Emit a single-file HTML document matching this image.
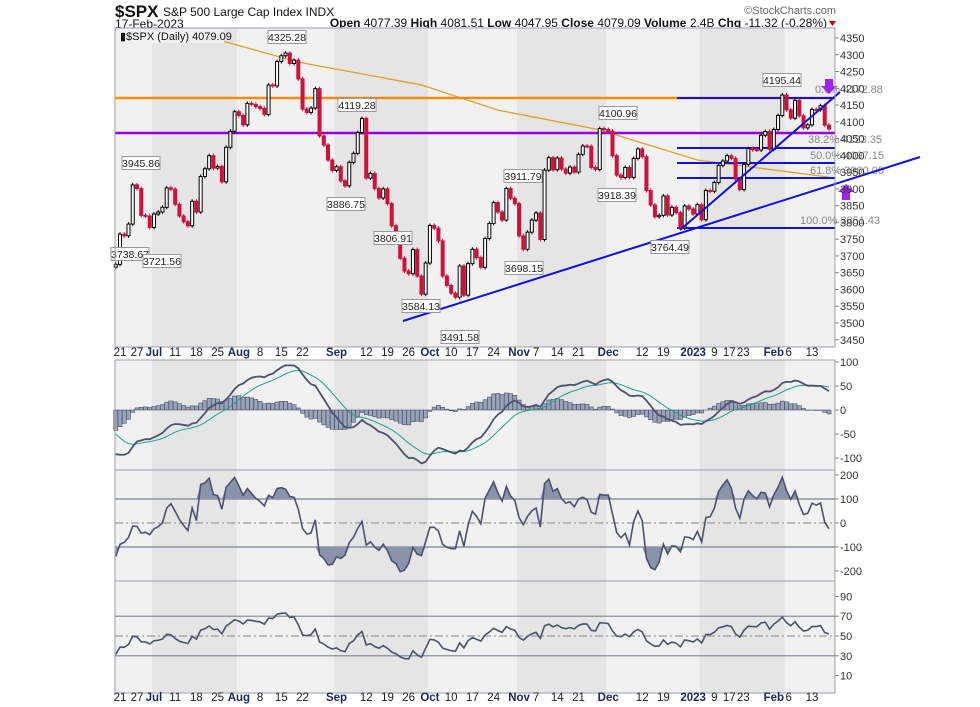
<!DOCTYPE html>
<html><head><meta charset="utf-8"><style>
html,body{margin:0;padding:0;background:#fff;}
svg{display:block;font-family:"Liberation Sans",sans-serif;}
</style></head><body>
<svg id="c" width="980" height="707" viewBox="0 0 980 707" xmlns="http://www.w3.org/2000/svg">
<g id="hdr">
<text x="115" y="17" font-size="17" font-weight="bold" fill="#111">$SPX</text>
<text x="163" y="16" font-size="12" fill="#111">S&amp;P 500 Large Cap Index INDX</text>
<text x="115" y="28" font-size="12" fill="#111">17-Feb-2023</text>
<text x="836" y="14" font-size="11" fill="#666" text-anchor="end">©StockCharts.com</text>
<text x="827" y="27" font-size="12" fill="#111" text-anchor="end"><tspan font-weight="bold">Open</tspan> 4077.39 <tspan font-weight="bold">High</tspan> 4081.51 <tspan font-weight="bold">Low</tspan> 4047.95 <tspan font-weight="bold">Close</tspan> 4079.09 <tspan font-weight="bold">Volume</tspan> 2.4B <tspan font-weight="bold">Chg</tspan> -11.32 (-0.28%)</text>
<path d="M829 21 L836 21 L832.5 26 Z" fill="#c00"/>
</g>
<g id="bands"></g>
<g id="main"></g>
<g id="macd"></g>
<g id="cci"></g>
<g id="rsi"></g>
<g id="axes"></g>
</svg>
<script>
// ---- data ----
const preCloses=[3923.68,3900.79,3901.36,3973.75,3941.48,3978.73,4057.84,4158.24,4132.15,4101.23,4176.82,4108.54,4121.43,4160.68,4115.77,4017.82,3900.86,3749.63,3735.48,3789.99,3666.77];
const closes=[3675,3765,3760,3795,3912,3901,3821,3819,3785,3825,3831,3845,3903,3899,3854,3819,3802,3790,3863,3831,3937,3960,3999,3962,3967,3921,4024,4072,4130,4119,4091,4155,4152,4145,4140,4122,4210,4207,4280,4297,4305,4274,4284,4228,4138,4128,4141,4199,4058,4031,3986,3955,3966,3924,3909,3979,4006,4068,4110,3932,3946,3901,3873,3900,3856,3790,3758,3693,3655,3647,3719,3640,3586,3679,3791,3783,3745,3640,3612,3589,3577,3670,3583,3677,3720,3695,3666,3752,3797,3859,3831,3807,3901,3872,3856,3760,3720,3771,3807,3828,3749,3956,3993,3957,3992,3959,3947,3965,3950,4003,4028,4027,3964,3958,4080,4077,4072,3999,3941,3934,3964,3934,3991,4019,3996,3895,3852,3817,3821,3879,3822,3845,3829,3783,3849,3840,3825,3853,3808,3895,3893,3919,3970,3983,3999,3991,3929,3898,3973,4020,4017,4016,4060,4071,4018,4077,4119,4180,4136,4111,4164,4118,4082,4091,4137,4136,4148,4090,4079];
const maIdx=[0,26,43,72,90,114,137,168];
const maVals=[4375,4338,4278,4210,4135,4076,3986,3935];
const priceTicks=[4350,4300,4250,4200,4150,4100,4050,4000,3950,3900,3850,3800,3750,3700,3650,3600,3550,3500,3450];
const dateTickIdx=[1,5,9,14,19,24,29,34,39,44,52,59,64,69,74,79,84,89,95,99,104,109,116,124,129,136,141,144.5,147.8,155,158.5,164];
const dateTickLbl=["21","27","Jul","11","18","25","Aug","8","15","22","Sep","12","19","26","Oct","10","17","24","Nov","7","14","21","Dec","12","19","2023","9","17","23","Feb","6","13"];
const bandStartIdx=[9,52,95,138];
const bandEndIdx=[29,74,116,158];
const macdTicks=[100,50,0,-50,-100];
const cciTicks=[200,100,0,-100,-200];
const rsiTicks=[90,70,50,30,10];
const fibVals=[4172.88,4123.35,4097.15,4070,3851.43];

// ---- scales ----
const NS="http://www.w3.org/2000/svg";
const X0=115,X1=835;
const step=(829-115.75)/(closes.length-1);
const xs=i=>115.75+i*step;
const yP=v=>38+(4350-v)*0.3353;
const yM=v=>410-v*0.48;
const yC=v=>523-v*0.24;
const yR=v=>636-(v-50)*0.99;
function el(parent,tag,attrs,text){const e=document.createElementNS(NS,tag);for(const k in attrs)e.setAttribute(k,attrs[k]);if(text!==undefined)e.textContent=text;document.getElementById(parent).appendChild(e);return e;}

// ---- panels bg ----
const panels=[[28,347],[360,470],[470,581],[581,693]];
panels.forEach((p,pi)=>{
  const r=el('bands','rect',{x:X0,y:p[0],width:X1-X0,height:p[1]-p[0],fill:'#f1f1f1'});
  
  
  bandStartIdx.forEach((s,k)=>{
    const b=el('bands','rect',{x:xs(s)-2,y:p[0],width:xs(bandEndIdx[k])-xs(s),height:p[1]-p[0],fill:'#e5e5e5'});
    
    
  });
});

// ---- main price ----
let pts=maIdx.map((i,k)=>xs(i)+','+yP(maVals[k])).join(' ');
let ma=el('main','polyline',{points:pts,fill:'none',stroke:'#e0a030','stroke-width':1.3});


let hl=el('main','line',{x1:X0,x2:X1,y1:98,y2:98,stroke:'#ff8c00','stroke-width':2.5});


let pl=el('main','line',{x1:X0,x2:X1,y1:133,y2:133,stroke:'#9400d3','stroke-width':2.5});


fibVals.forEach((v,k)=>{
  const fy=[98,148,163,178,228][k];
  const l=el('main','line',{x1:677,x2:835,y1:fy,y2:fy,stroke:'#1010e0','stroke-width':2});
  
  
});
const fibT=[["0.0% 4172.88",815,93],["38.2% 4123.35",808,143],["50.0% 4097.15",810,159],["61.8% 3960.00",810,174],["100.0% 3851.43",800,224]];
fibT.forEach(f=>{const t=el('main','text',{x:f[1],y:f[2],'font-size':11,fill:'#888'},f[0]);
  
  });
closes.forEach((c,i)=>{
  const o=i===0?preCloses[preCloses.length-1]:closes[i-1];
  const up=c>=o;const x=xs(i);
  const hi=Math.max(o,c)+6,lo=Math.min(o,c)-6;
  const w=el('main','line',{x1:x,x2:x,y1:yP(hi),y2:yP(lo),stroke:up?'#000':'#d0103a','stroke-width':1});
  
  
  const top=yP(Math.max(o,c)),h=Math.max(1,yP(Math.min(o,c))-top);
  const b=el('main','rect',{x:x-1.5,y:top,width:3,height:h,fill:up?'#fff':'#d0103a',stroke:up?'#000':'#d0103a','stroke-width':1});
  
  
});
let t1=el('main','line',{x1:403,y1:321,x2:920,y2:157,stroke:'#1010e0','stroke-width':2});


let t2=el('main','line',{x1:680,y1:230,x2:840,y2:92,stroke:'#1010e0','stroke-width':2});


const ann=[["4325.28",287,37],["3945.86",141,163],["3738.67",130,254],["3721.56",162,261],["4119.28",357,105],["3886.75",346,204],["3806.91",393,238],["3584.13",421,306],["3491.58",460,337],["3911.79",523,176],["3698.15",524,268],["4100.96",618,113],["3918.39",617,195],["3764.49",670,247],["4195.44",782,80]];
ann.forEach(a=>{
  const r=el('main','rect',{x:a[1]-19,y:a[2]-6.5,width:38,height:13,fill:'#fff',stroke:'#999','stroke-width':1});
  
  
  const t=el('main','text',{x:a[1],y:a[2]+4,'font-size':10.5,'text-anchor':'middle',fill:'#222'},a[0]);
  
  
});
let da=el('main','path',{d:'M825 79 h8 v7 h4 l-8 8 l-8 -8 h4 z',fill:'#a020f0'});


let ua=el('main','path',{d:'M846 184 l8 8 h-4 v8 h-8 v-8 h-4 z',fill:'#a020f0'});


let lg=el('main','rect',{x:116,y:29,width:108,height:14,fill:'#f1f1f1'});


let lt=el('main','text',{x:120,y:40,'font-size':11,fill:'#111'},'▮$SPX (Daily) 4079.09');



// ---- indicators ----
const all=preCloses.concat(closes);const P=preCloses.length;
let e12=4050,e26=4100,sig=-80;const macd=[],sg=[];
all.forEach(c=>{e12+= (c-e12)*2/13;e26+=(c-e26)*2/27;const m=e12-e26;sig+=(m-sig)*0.2;macd.push(m);sg.push(sig);});
let ag=15,al=25;const rsi=[];
all.forEach((c,i)=>{if(i>0){const d=c-all[i-1];ag=(ag*13+Math.max(d,0))/14;al=(al*13+Math.max(-d,0))/14;}rsi.push(100-100/(1+ag/al));});
const cci=[];
all.forEach((c,i)=>{if(i<19){cci.push(0);return;}const w=all.slice(i-19,i+1);const m=w.reduce((a,b)=>a+b)/20;const md=w.reduce((a,b)=>a+Math.abs(b-m),0)/20;cci.push((c-m)/(0.015*md));});

closes.forEach((c,i)=>{const h=macd[P+i]-sg[P+i];const y0=yM(0),y1=yM(h);
  const b=el('macd','rect',{x:xs(i)-2,y:Math.min(y0,y1),width:4,height:Math.abs(y1-y0),fill:'#9aa3b8',stroke:'#4a5270','stroke-width':0.6});
  
  });
let ms=el('macd','polyline',{points:closes.map((c,i)=>xs(i)+','+yM(sg[P+i])).join(' '),fill:'none',stroke:'#20a090','stroke-width':1});


let ml=el('macd','polyline',{points:closes.map((c,i)=>xs(i)+','+yM(macd[P+i])).join(' '),fill:'none',stroke:'#4a5270','stroke-width':1.8});



[100,-100].forEach(v=>{const l=el('cci','line',{x1:X0,x2:X1,y1:yC(v),y2:yC(v),stroke:'#7a8294','stroke-width':1.2});
  
  });
let cz=el('cci','line',{x1:X0,x2:X1,y1:yC(0),y2:yC(0),stroke:'#888','stroke-dasharray':'8,3,2,3'});


const cpts=closes.map((c,i)=>[xs(i),yC(Math.max(-230,Math.min(230,cci[P+i])))]);
let cfa=el('cci','polygon',{points:cpts.map(p=>p[0]+','+Math.min(p[1],yC(100))).join(' ')+' '+xs(closes.length-1)+','+yC(100)+' '+xs(0)+','+yC(100),fill:'#8a93aa'});


let cfb=el('cci','polygon',{points:cpts.map(p=>p[0]+','+Math.max(p[1],yC(-100))).join(' ')+' '+xs(closes.length-1)+','+yC(-100)+' '+xs(0)+','+yC(-100),fill:'#8a93aa'});


let cl=el('cci','polyline',{points:cpts.map(p=>p.join(',')).join(' '),fill:'none',stroke:'#4a5270','stroke-width':1.6});



[70,30].forEach(v=>{const l=el('rsi','line',{x1:X0,x2:X1,y1:yR(v),y2:yR(v),stroke:'#7a8294','stroke-width':1.2});
  
  });
let rz=el('rsi','line',{x1:X0,x2:X1,y1:yR(50),y2:yR(50),stroke:'#888','stroke-dasharray':'8,3,2,3'});


let rl=el('rsi','polyline',{points:closes.map((c,i)=>xs(i)+','+yR(rsi[P+i])).join(' '),fill:'none',stroke:'#4a5270','stroke-width':1.6});



// ---- axes ----
panels.forEach(p=>{const r=el('axes','rect',{x:X0,y:p[0],width:X1-X0,height:p[1]-p[0],fill:'none',stroke:'#9a9fae','stroke-width':1});
  
  });
function yTicks(ticks,f,name){ticks.forEach(v=>{const y=f(v);
  const tk=el('axes','line',{x1:X1,x2:X1+4,y1:y,y2:y,stroke:'#888'});
  
  
  const t=el('axes','text',{x:X1+5,y:y+4,'font-size':11,fill:'#333'},String(v));
  
  });}
yTicks(priceTicks,yP,'price-axis');
yTicks(macdTicks,yM,'macd-axis');
yTicks(cciTicks,yC,'cci-axis');
yTicks(rsiTicks,yR,'rsi-axis');
[356,701].forEach(yy=>{dateTickIdx.forEach((idx,k)=>{const lbl=dateTickLbl[k];const bold=isNaN(+lbl)||lbl==="2023";
  const t=el('axes','text',{x:xs(idx),y:yy,'font-size':11.5,'text-anchor':'middle','font-weight':bold?'bold':'normal',fill:bold?'#1a2a5a':'#222'},lbl);
  
  });});
</script>
</body></html>
